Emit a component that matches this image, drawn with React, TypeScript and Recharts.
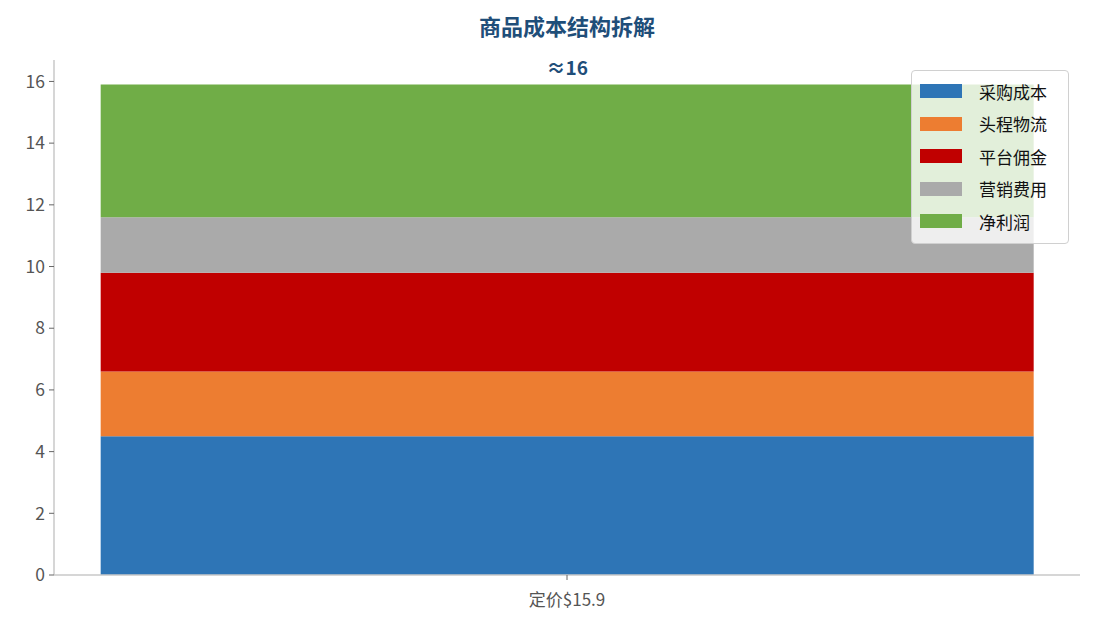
import { BarChart, Bar, XAxis, YAxis, LabelList } from "recharts";

// 成本构成（美元）
const categories = ["定价$15.9"];
const seriesNames = ["采购成本", "头程物流", "平台佣金", "营销费用", "净利润"];
const seriesKeys = ["purchase", "freight", "commission", "marketing", "profit"];
const seriesColors = ["#2e75b6", "#ed7d31", "#c00000", "#aaaaaa", "#70ad47"];
const purchase = [4.5];
const freight = [2.1];
const commission = [3.2];
const marketing = [1.8];
const profit = [4.3];
const yTicks = [0, 2, 4, 6, 8, 10, 12, 14, 16];

const data = categories.map((name, i) => ({
  name,
  purchase: purchase[i],
  freight: freight[i],
  commission: commission[i],
  marketing: marketing[i],
  profit: profit[i],
  total: purchase[i] + freight[i] + commission[i] + marketing[i] + profit[i],
}));

const font = '"Noto Sans CJK SC", "Noto Sans", sans-serif';

function LegendBox() {
  return (
    <div
      style={{
        position: "absolute",
        left: 911,
        top: 70,
        width: 158,
        boxSizing: "border-box",
        background: "rgba(255,255,255,0.8)",
        border: "1px solid #d0d0d0",
        borderRadius: 4,
        padding: "4px 0 5px 8px",
        fontFamily: font,
        fontSize: 17,
        color: "#111",
      }}
    >
      {seriesNames.map((n, i) => (
        <div key={n} style={{ display: "flex", alignItems: "center", height: 32.5 }}>
          <span style={{ width: 42, height: 14, background: seriesColors[i], display: "inline-block", marginRight: 17 }} />
          <span>{n}</span>
        </div>
      ))}
    </div>
  );
}

export default function App() {
  return (
    <div style={{ position: "absolute", left: 0, top: 0, width: 1095, height: 629, background: "#fff" }}>
      <div
        style={{
          position: "absolute",
          top: 9,
          left: 0,
          width: 1134,
          textAlign: "center",
          fontFamily: font,
          fontWeight: 700,
          fontSize: 22,
          color: "#1f4e79",
        }}
      >
        商品成本结构拆解
      </div>
      <BarChart
        width={1095}
        height={629}
        data={data}
        margin={{ top: 60, right: 15, bottom: 0, left: 0 }}
        barCategoryGap="4.55%"
        style={{ fontFamily: font }}
      >
        <XAxis
          dataKey="name"
          height={54}
          axisLine={{ stroke: "#c8c8c8", strokeWidth: 1.5 }}
          tickLine={{ stroke: "#666" }}
          tickSize={5}
          tick={{ fill: "#555", fontSize: 17 }}
          tickMargin={14}
        />
        <YAxis
          width={54}
          domain={[0, 16.695]}
          ticks={yTicks}
          axisLine={{ stroke: "#c8c8c8", strokeWidth: 1.5 }}
          tickLine={{ stroke: "#666" }}
          tickSize={5}
          tick={{ fill: "#555", fontSize: 17.5 }}
          tickMargin={4}
        />
        {seriesKeys.map((k, i) => (
          <Bar key={k} dataKey={k} name={seriesNames[i]} stackId="a" fill={seriesColors[i]} isAnimationActive={false}>
            {k === "profit" && (
              <LabelList
                dataKey="total"
                position="top"
                offset={10}
                formatter={(v: any) => "≈" + Math.round(Number(v))}
                style={{ fill: "#1f4e79", fontWeight: 700, fontSize: 19 }}
              />
            )}
          </Bar>
        ))}
      </BarChart>
      <LegendBox />
    </div>
  );
}
